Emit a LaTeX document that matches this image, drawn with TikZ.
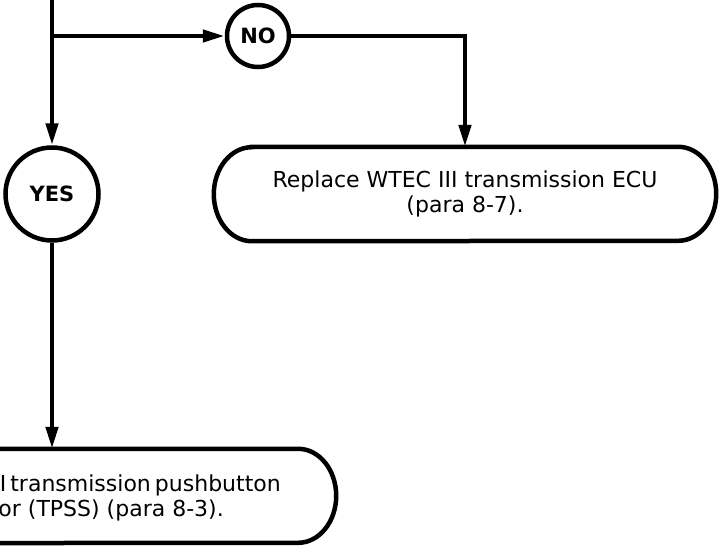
\documentclass[tikz,border=0pt]{standalone}
\usepackage{fontspec}
\setmainfont{DejaVu Sans}
\usetikzlibrary{arrows.meta}
\begin{document}
\begin{tikzpicture}[x=1pt,y=-1pt,
  conn/.style={line width=4.5pt,-{Triangle[length=22pt,width=12pt]}},
  decision/.style={circle,draw,line width=4.5pt,inner sep=0pt,font=\fontsize{21}{24}\selectfont\bfseries},
  boxtext/.style={font=\fontsize{22}{25}\selectfont,align=center,inner sep=0pt},
  linetext/.style={font=\fontsize{22}{25}\selectfont,inner sep=0pt,anchor=base east},
  outline/.style={line width=4.5pt}]
\clip (0,0) rectangle (719,546);
% nodes
\node[decision,minimum size=62pt] (no) at (258,36) {NO};
\node[decision,minimum size=93pt] (yes) at (52,194) {YES};
\node[minimum width=502pt,minimum height=94pt,inner sep=0pt] (ecu) at (465,194) {};
\node[boxtext] (ecutext) at (ecu.center) {Replace WTEC III transmission ECU\\(para 8-7).};
\node[minimum width=568pt,minimum height=94pt,inner sep=0pt] (tpss) at (52,496) {};
\node[linetext] (tpssA) at (281,491) {\spaceskip=4pt I transmission pushbutton};
\node[linetext] (tpssB) at (224,516) {or (TPSS) (para 8-3).};
% box outlines with elliptical ends
\draw[outline] ([xshift=38pt]ecu.north west) -- ([xshift=-38pt]ecu.north east)
  arc[start angle=90,end angle=-90,x radius=38pt,y radius=47pt]
  -- ([xshift=38pt]ecu.south west)
  arc[start angle=270,end angle=90,x radius=38pt,y radius=47pt] -- cycle;
\draw[outline] ([xshift=38pt]tpss.north west) -- ([xshift=-38pt]tpss.north east)
  arc[start angle=90,end angle=-90,x radius=38pt,y radius=47pt]
  -- ([xshift=38pt]tpss.south west)
  arc[start angle=270,end angle=90,x radius=38pt,y radius=47pt] -- cycle;
% connectors
\coordinate (top) at (52,-6);
\coordinate (split) at (52,36);
\draw[conn] (top) -- (yes.north);
\draw[conn] (split) -- (no.west);
\draw[conn] (no.east) -| (ecu.north);
\draw[conn] (yes.south) -- (tpss.north);
\end{tikzpicture}
\end{document}
